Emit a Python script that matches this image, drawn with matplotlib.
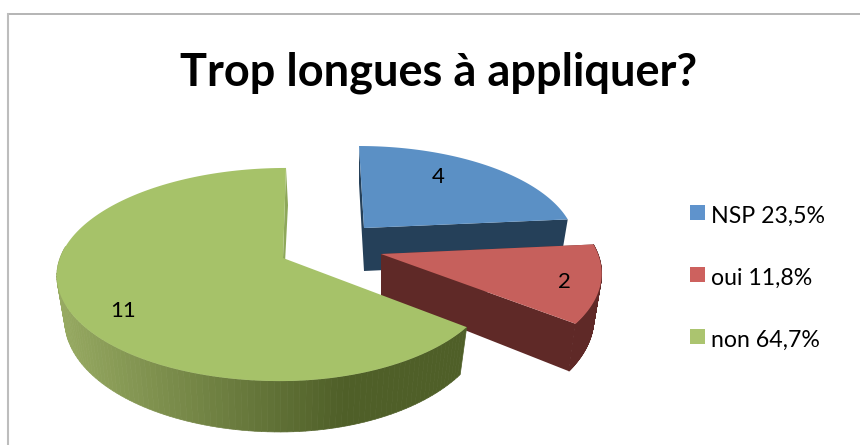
import numpy as np
import matplotlib
matplotlib.use('Agg')
import matplotlib.pyplot as plt
from matplotlib.patches import Polygon, Rectangle

plt.rcParams['font.family'] = ['Lato', 'DejaVu Sans']

title = 'Trop longues à appliquer?'
names = ['NSP', 'oui', 'non']
values = [4, 2, 11]

# look of each slice, in pixels of the 860x445 picture
apex = [(364, 228), (381, 254), (283, 258)]
radius_x = [208, 217, 223]
radius_y = [94.7, 105, 104]
right_scale = [1, 1, 0.945]
skew = [-5, -6, 3]
top_colors = ['#5b90c5', '#c6605c', '#a6c269']
wall_colors = ['#254059', '#5f2927', '#4f5f28']
legend_colors = ['#5f93cc', '#cd615e', '#abc46f']
value_pos = [(438, 177), (564, 282), (123, 311)]
legend_base = [223, 285, 347]

k = 0.155
depth = 43
bottom_scale = 0.965

fig = plt.figure(figsize=(8.6, 4.45), dpi=100)
ax = fig.add_axes([0, 0, 1, 1])
ax.set_xlim(0, 860)
ax.set_ylim(445, 0)
ax.axis('off')


def rim(i, theta, bottom=False):
    # theta is clockwise from the back of the pie
    u = np.sin(theta)
    v = np.cos(theta)
    s = 1 / (1 + k * v)
    dx = radius_x[i] * u * s
    dx = np.where(u > 0, dx * right_scale[i], dx)
    x = apex[i][0] + skew[i] * v
    y = apex[i][1] - radius_y[i] * v * s
    if bottom:
        return x + dx * bottom_scale, y + depth * s
    return x + dx, y


def mix(a, b, t):
    a = np.array(matplotlib.colors.to_rgb(a))
    b = np.array(matplotlib.colors.to_rgb(b))
    return a + (b - a) * t


def draw_slice(i, start, end):
    ax_, ay = apex[i]
    theta = np.linspace(start, end, 160)
    tx, ty = rim(i, theta)
    bx, by = rim(i, theta, True)

    # cut faces, only the ones turned to us show
    if i == 2:
        ax.add_patch(Polygon([(ax_, ay), (tx[-1], ty[-1]), (bx[-1] + 2, by[-1]), (ax_, ay + depth)],
                             fc='#8ea85a', ec='none', zorder=i))
    else:
        ax.add_patch(Polygon([(ax_, ay), (tx[-1], ty[-1]), (bx[-1], by[-1]), (ax_, ay + depth)],
                             fc=wall_colors[i], ec='none', zorder=i))
        ax.add_patch(Polygon([(ax_, ay), (tx[0], ty[0]), (bx[0], by[0]), (ax_, ay + depth)],
                             fc=wall_colors[i], ec='none', zorder=i))

    # outer wall as small strips, green gets lighter to the left
    for j in range(len(theta) - 1):
        if np.cos(theta[j]) > 0.1:
            continue
        c = wall_colors[i]
        if i == 2:
            t = np.clip((tx[j] - 57) / 290, 0, 1)
            c = mix('#97aa62', '#4f5f28', t)
        ax.add_patch(Polygon([(tx[j], ty[j]), (tx[j + 1], ty[j + 1]), (bx[j + 1], by[j + 1]), (bx[j], by[j])],
                             fc=c, ec=c, lw=0.5, zorder=i))

    ax.add_patch(Polygon([(ax_, ay)] + list(zip(tx, ty)), fc=top_colors[i], ec='none', zorder=i + 0.5))


total = sum(values)
edges = np.cumsum([0] + values) / total * 2 * np.pi
for i in range(len(values)):
    draw_slice(i, edges[i], edges[i + 1])
    ax.text(value_pos[i][0], value_pos[i][1], str(values[i]), fontsize=16, color='black',
            ha='center', va='center', zorder=5)

    pct = f'{values[i] / total * 100:.1f}%'.replace('.', ',')
    ax.add_patch(Rectangle((690, legend_base[i] - 18), 15, 15, fc=legend_colors[i], ec='none', zorder=5))
    ax.text(711, legend_base[i], f'{names[i]} {pct}', fontsize=16.7, color='black', ha='left', va='baseline', zorder=5)

ax.text(438.5, 86, title, fontsize=32.5, fontweight='bold', color='black', ha='center', va='baseline', zorder=5)

# chart frame, cut by the screenshot on the other sides
ax.plot([8, 860], [13.5, 13.5], color='#a8a8a8', lw=1.2, zorder=1)
ax.plot([8, 8], [13.5, 445], color='#bdbdbd', lw=1.5, zorder=1)

fig.savefig('out.png', dpi=100, facecolor='white')
